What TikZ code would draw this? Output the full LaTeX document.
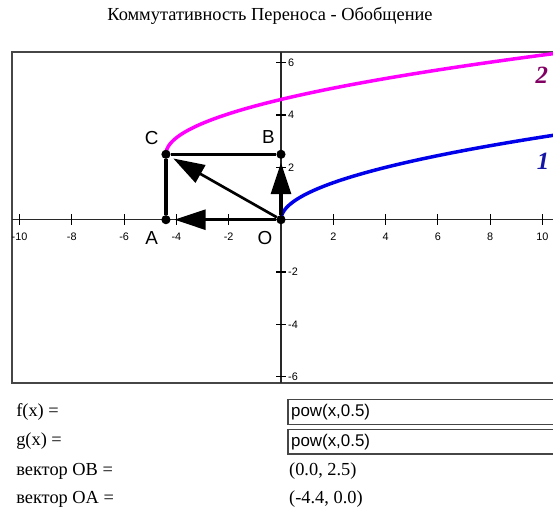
\documentclass[tikz,border=0pt]{standalone}
\usepackage{fontspec}
\setmainfont{Liberation Serif}
\setsansfont{Liberation Sans}
\usepackage{tikz}
\usetikzlibrary{arrows.meta,calc}
\definecolor{framegray}{RGB}{70,70,70}
\definecolor{axisgray}{RGB}{40,40,40}
\definecolor{curveblue}{RGB}{0,0,235}
\definecolor{curvemag}{RGB}{255,0,255}
\definecolor{labelone}{RGB}{20,20,165}
\definecolor{labeltwo}{RGB}{130,0,100}
\tikzset{
  frame/.style  ={draw=framegray, line width=2.2pt},
  axis/.style   ={draw=axisgray, line width=1.4pt},
  tickmark/.style={draw=black, line width=1.3pt},
  ticklbl/.style={font=\sffamily\fontsize{11.8}{12}\selectfont, inner sep=0pt, text=black},
  pnt/.style    ={circle, fill=black, inner sep=0pt, minimum size=0.35cm},
  pntlbl/.style ={font=\sffamily\fontsize{20.5}{22}\selectfont, inner sep=0pt},
  rectedge/.style={draw=black, line width=3.6pt},
  vec/.style    ={-{Triangle[length=1.2cm,width=0.76cm]}, draw=black, line width=3.6pt,
                  shorten >=0.14cm},
  curveone/.style={draw=curveblue, line width=3.8pt},
  curvetwo/.style={draw=curvemag, line width=3.8pt},
  crvlbl/.style ={font=\fontsize{27}{30}\selectfont\bfseries\itshape, inner sep=0pt},
  formlbl/.style={font=\fontsize{20}{22}\selectfont, anchor=west, inner sep=0pt},
  inbox/.style  ={draw=framegray, line width=1.3pt},
  intext/.style ={font=\sffamily\fontsize{18.4}{20}\selectfont, anchor=west, inner sep=0pt}
}
\begin{document}
\begin{tikzpicture}
\fill[white] (-10.746,-11.14) rectangle (10.402,8.401);
\useasboundingbox (-10.746,-11.14) rectangle (10.402,8.401);

% Title
\node[font=\fontsize{20}{22}\selectfont] (title) at (-0.42,7.79)
  {Коммутативность Переноса - Обобщение};

% Frame (right side runs off the page)
\draw[frame] (10.402,6.413) -- (-10.27,6.413) -- (-10.27,-6.245) -- (10.402,-6.245);

% Axes with ticks
\draw[axis] (-10.27,0) -- (10.402,0);
\draw[axis] (0,6.413) -- (0,-6.245);
\foreach \x [count=\i] in {-10,-8,-6,-4,-2,2,4,6,8,10}{
  \draw[tickmark] (\x,-0.2) -- (\x,0.2);
  \node[ticklbl] (xl\i) at (\x,-0.65) {\x};
}
\foreach \y [count=\i] in {-6,-4,-2,2,4,6}{
  \draw[tickmark] (-0.19,\y) -- (0.19,\y);
  \node[ticklbl, anchor=west] (yl\i) at (0.27,\y) {\y};
}

% Curves: f(x) and g shifted by OA+OB
\draw[curveone] plot[domain=0:3.226, samples=80, smooth] ({\x*\x},{\x});
\draw[curvetwo] plot[domain=0:3.85, samples=80, smooth] ({\x*\x-4.4},{\x+2.5});
\node[crvlbl, text=labelone] (lone) at (10.02,2.22) {1};
\node[crvlbl, text=labeltwo] (ltwo) at (9.97,5.53) {2};

% Points
\node[pnt] (O) at (0,0) {};
\node[pnt] (A) at (-4.4,0) {};
\node[pnt] (B) at (0,2.5) {};
\node[pnt] (C) at (-4.4,2.5) {};

% Parallelogram and vectors
\draw[rectedge] (A) -- (C) -- (B);
\draw[vec] (O) -- (A);
\draw[vec] (O) -- (B);
\draw[vec, line width=2.9pt] (O) -- (C);

\node[pntlbl] (lO) at (-0.61,-0.70) {O};
\node[pntlbl] (lA) at (-4.945,-0.71) {A};
\node[pntlbl] (lB) at (-0.486,3.17) {B};
\node[pntlbl] (lC) at (-4.945,3.11) {C};

% Form below the graph
\node[formlbl] (fx) at (-10.13,-7.35) {f(x) =};
\node[formlbl] (gx) at (-10.13,-8.46) {g(x) =};
\node[formlbl] (vob) at (-10.13,-9.61) {вектор OB =};
\node[formlbl] (voa) at (-10.13,-10.68) {вектор OA =};

\draw[inbox] (10.402,-6.868) -- (0.268,-6.868) -- (0.268,-7.824) -- (10.402,-7.824);
\draw[inbox] (10.402,-8.015) -- (0.268,-8.015) -- (0.268,-8.960) -- (10.402,-8.960);
\node[intext] (fin) at (0.38,-7.35) {pow(x,0.5)};
\node[intext] (gin) at (0.38,-8.49) {pow(x,0.5)};
\node[formlbl] (vobval) at (0.306,-9.61) {(0.0, 2.5)};
\node[formlbl] (voaval) at (0.306,-10.68) {(-4.4, 0.0)};
\end{tikzpicture}
\end{document}
